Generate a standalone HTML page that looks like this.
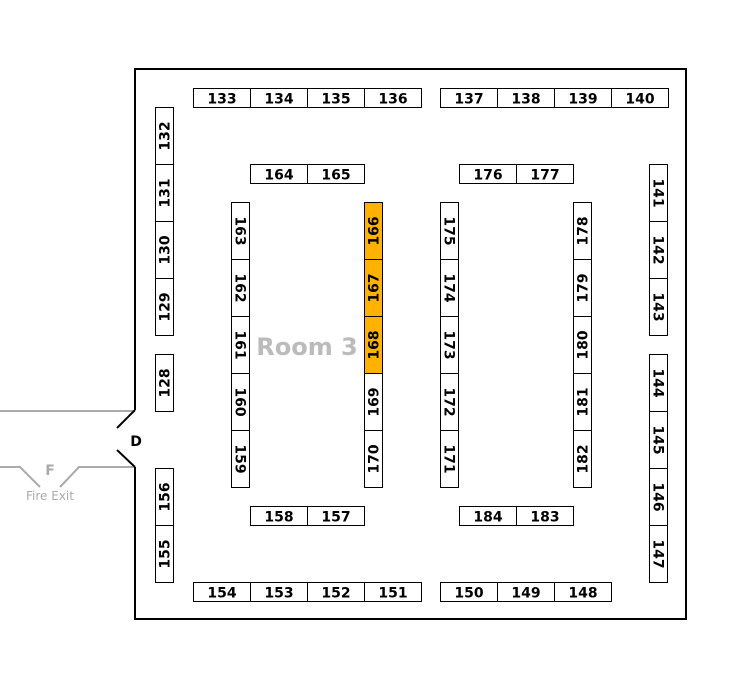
<!DOCTYPE html>
<html><head><meta charset="utf-8"><style>
html,body{margin:0;padding:0;background:#fff;width:755px;height:689px;overflow:hidden}
svg text{font-family:"DejaVu Sans","Liberation Sans",sans-serif}
</style></head><body>
<svg id="s" width="755" height="689" xmlns="http://www.w3.org/2000/svg">
<g fill="none" stroke="#aaa" stroke-width="2">
<polyline points="0,411 135,411"/>
<polyline points="0,467 20,467 40,487"/>
<polyline points="60,487 79,467 135,467"/>
</g>
<g fill="none" stroke="#000" stroke-width="2">
<polyline points="135,410 135,69 686,69 686,619 135,619 135,467"/>
<polyline points="135,410 117,428"/>
<polyline points="117,450 135,467"/>
</g>
<text x="136" y="446" font-size="14" font-weight="bold" text-anchor="middle">D</text>
<text x="50" y="475" font-size="14" font-weight="bold" fill="#aaa" text-anchor="middle">F</text>
<text x="50" y="500" font-size="12" fill="#aaa" text-anchor="middle">Fire Exit</text>
<text x="307" y="355" font-size="24" font-weight="bold" fill="#bbb" text-anchor="middle">Room 3</text>
<g id="b"></g>
</svg>
<script>
var g=document.getElementById('b'),h='';
function H(x,y,labels){labels.forEach(function(l,i){var X=x+i*57;
h+='<rect x="'+X+'" y="'+y+'" width="57" height="19" fill="#fff" stroke="#000" stroke-width="1"/>';
h+='<text x="'+(X+28.5)+'" y="'+(y+15)+'" font-size="14" font-weight="bold" text-anchor="middle">'+l+'</text>';});}
function V(x,y,labels,rot,fill){labels.forEach(function(l,i){var Y=y+i*57;
h+='<rect x="'+x+'" y="'+Y+'" width="18" height="57" fill="'+(fill&&fill[i]?fill[i]:'#fff')+'" stroke="#000" stroke-width="1"/>';
var cx=x+9,cy=Y+28.5;
h+='<text transform="translate('+cx+','+cy+') rotate('+rot+')" x="0" y="5" font-size="14" font-weight="bold" text-anchor="middle">'+l+'</text>';});}
H(193.5,88.5,[133,134,135,136]);H(440.5,88.5,[137,138,139,140]);
H(250.5,164.5,[164,165]);H(459.5,164.5,[176,177]);
H(250.5,506.5,[158,157]);H(459.5,506.5,[184,183]);
H(193.5,582.5,[154,153,152,151]);H(440.5,582.5,[150,149,148]);
V(155.5,107.5,[132,131,130,129],-90);V(155.5,354.5,[128],-90);V(155.5,468.5,[156,155],-90);
V(231.5,202.5,[163,162,161,160,159],90);
V(364.5,202.5,[166,167,168,169,170],-90,['#ffb300','#ffb300','#ffb300']);
V(440.5,202.5,[175,174,173,172,171],90);
V(573.5,202.5,[178,179,180,181,182],-90);
V(649.5,164.5,[141,142,143],90);V(649.5,354.5,[144,145,146,147],90);
g.innerHTML=h;
</script>
</body></html>
